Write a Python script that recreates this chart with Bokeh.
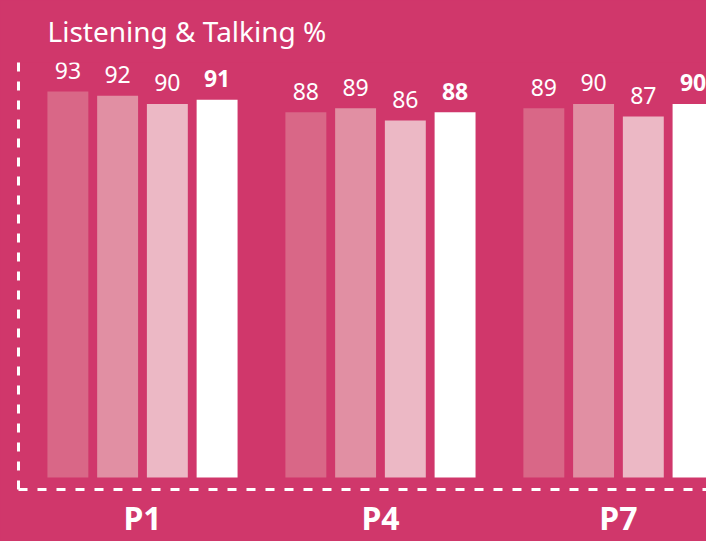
from bokeh.plotting import figure
from bokeh.models import ColumnDataSource, Range1d, FixedTicker
from bokeh.core.properties import value
from bokeh.embed import file_html
from bokeh.resources import INLINE

# ---- data ----
title_text = "Listening & Talking %"
groups = ["P1", "P4", "P7"]
series_names = ["Series 1", "Series 2", "Series 3", "Series 4"]
series1 = [93, 88, 89]
series2 = [92, 89, 90]
series3 = [90, 86, 87]
series4 = [91, 88, 90]
all_series = [series1, series2, series3, series4]

BG = "#D0376B"
colors = ["#D96787", "#E18FA3", "#ECB8C5", "#FFFFFF"]
FONT = "Noto Sans"
W, H = 706, 541

group_pos = list(range(len(groups)))
pitch = 0.209
bar_w = 0.172

p = figure(width=W, height=H, output_backend="svg", toolbar_location=None,
           x_range=Range1d(-0.521, 2.37), y_range=Range1d(-2.9, 100),
           min_border_left=18, min_border_right=0,
           min_border_bottom=51, min_border_top=0)
p.background_fill_color = None
p.border_fill_color = BG
p.outline_line_color = None
p.xgrid.visible = False
p.ygrid.visible = False

p.title.text = title_text
p.title.text_color = "white"
p.title.text_font = FONT
p.title.text_font_style = "normal"
p.title.text_font_size = "28px"
p.title.offset = 29
p.title.standoff = 22
p.title.vertical_align = "top"

for i, vals in enumerate(all_series):
    xs = [g + (i - 1.5) * pitch for g in group_pos]
    src = ColumnDataSource(dict(x=xs, top=vals, label=[str(v) for v in vals]))
    p.vbar(x="x", top="top", bottom=0, width=bar_w, source=src,
           fill_color=colors[i], line_color=None)
    p.text(x="x", y="top", text="label", source=src, text_align="center",
           text_baseline="alphabetic", y_offset=-21, text_color="white",
           text_font=value(FONT), text_font_size="23px",
           text_font_style="bold" if i == 3 else "normal")

# x axis
p.xaxis.ticker = FixedTicker(ticks=group_pos)
p.xaxis.major_label_overrides = {g: name for g, name in zip(group_pos, groups)}
p.xaxis.major_label_text_color = "white"
p.xaxis.major_label_text_font = FONT
p.xaxis.major_label_text_font_style = "bold"
p.xaxis.major_label_text_font_size = "32px"
p.xaxis.major_label_standoff = 6
p.xaxis.major_tick_out = 0
p.xaxis.major_tick_in = 0
p.xaxis.major_tick_line_color = None
p.xaxis.minor_tick_line_color = None
p.xaxis.axis_line_color = "white"
p.xaxis.axis_line_width = 3
p.xaxis.axis_line_dash = "9 10"

# y axis: only a dashed line
p.yaxis.ticker = FixedTicker(ticks=[])
p.yaxis.major_tick_line_color = None
p.yaxis.minor_tick_line_color = None
p.yaxis.axis_line_color = "white"
p.yaxis.axis_line_width = 3
p.yaxis.axis_line_dash = "9 10"

html = file_html(p, INLINE)
style = "<style>html,body{margin:0;padding:0;background-color:%s;overflow:hidden;}</style>" % BG
html = html.replace("</head>", style + "</head>", 1)
open("out.html", "w").write(html)
